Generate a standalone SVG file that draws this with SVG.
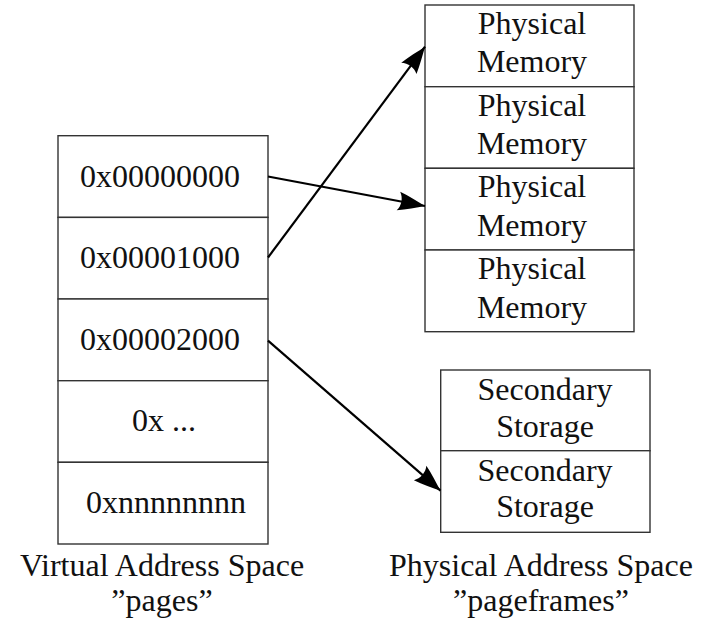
<svg xmlns="http://www.w3.org/2000/svg" width="707" height="623" viewBox="0 0 707 623">
<style>
.box{fill:#fff;stroke:#333;stroke-width:1.4}
.t{font-family:"Liberation Serif","DejaVu Serif",serif;font-size:32px;fill:#111;text-anchor:middle}
.conn{stroke:#000;stroke-width:2.2;fill:none;marker-end:url(#ah)}
</style>
<defs>
<marker id="ah" viewBox="-28 -11 30 22" refX="0" refY="0" markerWidth="30" markerHeight="22" markerUnits="userSpaceOnUse" orient="auto">
<path d="M0,0 C-8,-3 -18,-7 -27,-9.5 C-23,-4 -23,4 -27,9.5 C-18,7 -8,3 0,0 Z" fill="#000"/>
</marker>
</defs>
<g id="virtual">
<g id="v0"><rect class="box" x="58" y="135.7" width="210" height="81.7"/><text class="t" x="160" y="186.7">0x00000000</text></g>
<g id="v1"><rect class="box" x="58" y="217.4" width="210" height="81.6"/><text class="t" x="160" y="268.4">0x00001000</text></g>
<g id="v2"><rect class="box" x="58" y="299" width="210" height="81.7"/><text class="t" x="160" y="350">0x00002000</text></g>
<g id="v3"><rect class="box" x="58" y="380.7" width="210" height="81.6"/><text class="t" x="164" y="431">0x ...</text></g>
<g id="v4"><rect class="box" x="58" y="462.3" width="210" height="81.7"/><text class="t" x="166" y="512.7">0xnnnnnnnn</text></g>
</g>
<g id="physical">
<g id="p0"><rect class="box" x="425" y="5" width="209" height="81.7"/><text class="t" x="532" y="33.7">Physical</text><text class="t" x="532" y="72">Memory</text></g>
<g id="p1"><rect class="box" x="425" y="86.7" width="209" height="81.6"/><text class="t" x="532" y="115.5">Physical</text><text class="t" x="532" y="153.5">Memory</text></g>
<g id="p2"><rect class="box" x="425" y="168.3" width="209" height="81.7"/><text class="t" x="532" y="196.5">Physical</text><text class="t" x="532" y="235.5">Memory</text></g>
<g id="p3"><rect class="box" x="425" y="250" width="209" height="81.7"/><text class="t" x="532" y="278.5">Physical</text><text class="t" x="532" y="317.5">Memory</text></g>
</g>
<g id="secondary">
<g id="s0"><rect class="box" x="440.7" y="370" width="209.3" height="80.7"/><text class="t" x="545" y="400">Secondary</text><text class="t" x="545" y="437">Storage</text></g>
<g id="s1"><rect class="box" x="440.7" y="450.7" width="209.3" height="81.6"/><text class="t" x="545" y="480.7">Secondary</text><text class="t" x="545" y="517">Storage</text></g>
</g>
<g id="connectors">
<line class="conn" x1="268" y1="176.5" x2="425" y2="206"/>
<line class="conn" x1="268" y1="257.5" x2="425" y2="46.7"/>
<line class="conn" x1="268" y1="340.7" x2="440.5" y2="490.7"/>
</g>
<g id="labels">
<text class="t" x="162" y="576">Virtual Address Space</text>
<text class="t" x="162" y="611">”pages”</text>
<text class="t" x="541" y="576">Physical Address Space</text>
<text class="t" x="541" y="611">”pageframes”</text>
</g>
</svg>
